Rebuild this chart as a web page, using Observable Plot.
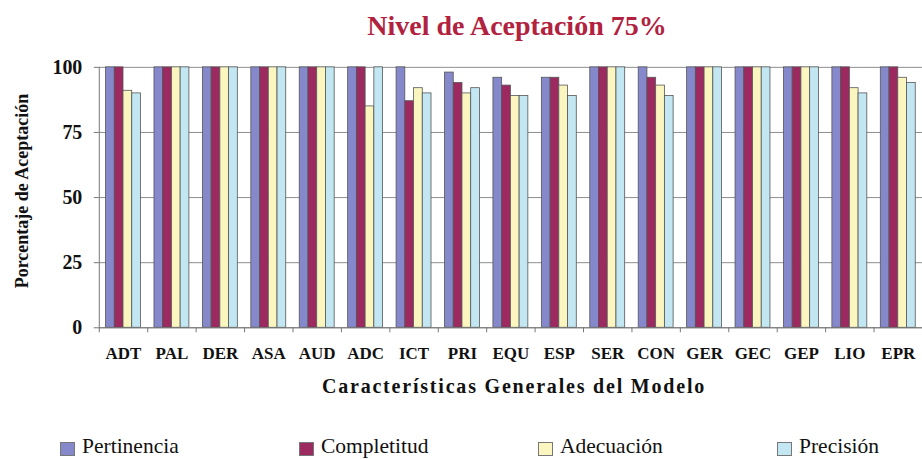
<!DOCTYPE html>
<html>
<head>
<meta charset="utf-8">
<script src="https://cdn.jsdelivr.net/npm/d3@7"></script>
<script src="https://cdn.jsdelivr.net/npm/@observablehq/plot@0.6"></script>
<style>
  html, body { margin: 0; padding: 0; }
  body {
    width: 922px; height: 459px; overflow: hidden; position: relative;
    background: #fff; font-family: "Liberation Serif", "Times New Roman", serif; color: #111;
  }
  #chart { position: absolute; left: 0; top: 0; }
  .title {
    position: absolute; left: 517px; top: 12px; transform: translateX(-50%);
    font-size: 28px; line-height: 1; font-weight: bold; color: #b1223f; white-space: nowrap;
  }
  .ylabel {
    position: absolute; left: 22px; top: 191px; transform: translate(-50%, -50%) rotate(-90deg);
    font-size: 18px; line-height: 1; font-weight: bold; white-space: nowrap;
  }
  .xlabel {
    position: absolute; left: 514px; top: 376px; transform: translateX(-50%);
    font-size: 20px; line-height: 1; font-weight: bold; letter-spacing: 1.8px; white-space: nowrap;
  }
  .legend { position: absolute; left: 60px; top: 436px; display: flex; }
  .legend .item { width: 239px; display: flex; align-items: flex-start; font-size: 21.5px; line-height: 1; white-space: nowrap; }
  .legend .sw { width: 13px; height: 12px; border: 1px solid #777; margin: 6px 7px 0 0; box-sizing: content-box; }
</style>
</head>
<body>
<div id="chart"></div>
<div class="title">Nivel de Aceptación 75%</div>
<div class="ylabel">Porcentaje de Aceptación</div>
<div class="xlabel">Características Generales del Modelo</div>
<div class="legend" id="legend"></div>
<script>
// Model characteristics (x categories)
const categories = ["ADT", "PAL", "DER", "ASA", "AUD", "ADC", "ICT", "PRI", "EQU", "ESP", "SER", "CON", "GER", "GEC", "GEP", "LIO", "EPR"];

// Acceptance percentage per criterion
const pertinencia = [100, 100, 100, 100, 100, 100, 100, 98, 96, 96, 100, 100, 100, 100, 100, 100, 100];
const completitud = [100, 100, 100, 100, 100, 100, 87, 94, 93, 96, 100, 96, 100, 100, 100, 100, 100];
const adecuacion  = [91, 100, 100, 100, 100, 85, 92, 90, 89, 93, 100, 93, 100, 100, 100, 92, 96];
const precision   = [90, 100, 100, 100, 100, 100, 90, 92, 89, 89, 100, 89, 100, 100, 100, 90, 94];

// Y axis ticks
const yTicks = [0, 25, 50, 75, 100];

const seriesNames = ["Pertinencia", "Completitud", "Adecuación", "Precisión"];
const seriesValues = [pertinencia, completitud, adecuacion, precision];
const seriesColors = ["#8589cb", "#9c2a60", "#fbf6c0", "#c2e7f2"];

const rows = categories.map((c, i) => {
  const r = {categoria: c};
  seriesNames.forEach((s, k) => { r[s] = seriesValues[k][i]; });
  return r;
});

const width = 924, height = 370, marginLeft = 99, marginRight = 0, marginTop = 67, marginBottom = 42;
const bw = (width - marginLeft - marginRight) / categories.length;
const barW = 8.75;
const pad = (bw - seriesNames.length * barW) / 2;

const chart = Plot.plot({
  width, height, marginLeft, marginRight, marginTop, marginBottom,
  style: {fontFamily: "Liberation Serif, Times New Roman, serif", color: "#111", background: "transparent"},
  x: {type: "band", domain: categories, padding: 0, round: false},
  y: {domain: [0, 100]},
  marks: [
    Plot.gridY(yTicks, {stroke: "#8e8e8e", strokeOpacity: 1}),
    ...seriesNames.map((s, k) => Plot.barY(rows, {
      x: "categoria", y: s, fill: seriesColors[k], stroke: "#555", strokeWidth: 0.8,
      insetLeft: pad + k * barW, insetRight: bw - pad - (k + 1) * barW
    })),
    Plot.ruleY([0], {stroke: "#777"}),
    Plot.frame({anchor: "left", stroke: "#777"}),
    Plot.axisY(yTicks, {tickSize: 5, tickPadding: 12, fontSize: 20, fontWeight: "bold", label: null, stroke: "#777", fill: "#111"}),
    Plot.axisX({tickSize: 0, tickPadding: 19, fontSize: 17, fontWeight: "bold", label: null, fill: "#111"}),
    Plot.axisX({tickSize: 5, dx: -bw / 2, tickFormat: () => "", label: null, stroke: "#777"})
  ]
});
document.getElementById("chart").appendChild(chart);

// Legend
const legend = document.getElementById("legend");
seriesNames.forEach((s, k) => {
  const item = document.createElement("div");
  item.className = "item";
  const sw = document.createElement("span");
  sw.className = "sw";
  sw.style.background = seriesColors[k];
  const t = document.createElement("span");
  t.textContent = s;
  item.append(sw, t);
  legend.appendChild(item);
});
</script>
</body>
</html>
